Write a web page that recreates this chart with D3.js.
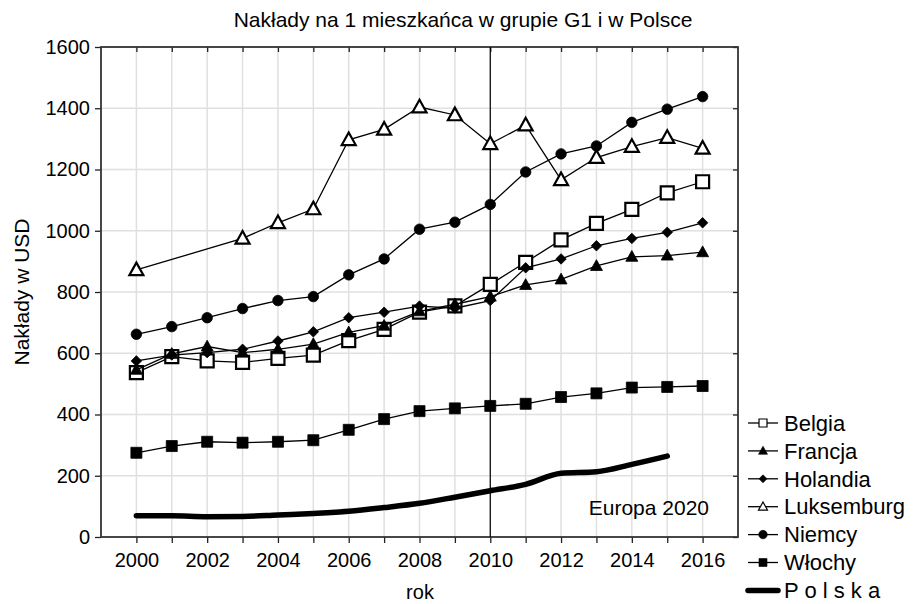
<!DOCTYPE html>
<html>
<head>
<meta charset="utf-8">
<script src="https://cdn.jsdelivr.net/npm/d3@7"></script>
<style>
  html, body { margin: 0; padding: 0; background: #fff; }
  svg { display: block; font-family: "Liberation Sans", Arial, sans-serif; }
</style>
</head>
<body>
<svg id="chart" width="923" height="604"></svg>
<script>
// Years covered by the series
const years = [2000, 2001, 2002, 2003, 2004, 2005, 2006, 2007, 2008,
               2009, 2010, 2011, 2012, 2013, 2014, 2015, 2016];

// Spending per inhabitant (USD); null = no data for that year
const belgia     = [537, 589, 575, 570, 583, 594, 641, 678, 734, 755, 825, 897, 970, 1024, 1070, 1124, 1160];
const francja    = [546, 598, 622, 602, 613, 630, 668, 690, 737, 760, 785, 823, 841, 885, 915, 919, 930];
const holandia   = [575, 594, 602, 613, 640, 670, 716, 734, 754, 747, 772, 879, 908, 951, 975, 995, 1026];
const luksemburg = [872, null, null, 975, 1026, 1071, 1297, 1331, 1404, 1378, 1284, 1345, 1166, 1239, 1275, 1304, 1269];
const niemcy     = [662, 687, 716, 746, 772, 785, 856, 908, 1005, 1028, 1086, 1192, 1251, 1277, 1354, 1397, 1438];
const wlochy     = [275, 297, 311, 308, 311, 316, 350, 385, 411, 420, 428, 435, 457, 469, 488, 490, 493];
const polska     = [69, 69, 66, 67, 72, 77, 84, 96, 110, 130, 151, 172, 208, 213, 237, 264, null];

const yTicks = [0, 200, 400, 600, 800, 1000, 1200, 1400, 1600];
const xTickLabels = [2000, 2002, 2004, 2006, 2008, 2010, 2012, 2014, 2016];
const markerYear = 2010;

const titleText = "Nakłady na 1 mieszkańca w grupie G1 i w Polsce";
const yTitle = "Nakłady w USD";
const xTitle = "rok";
const noteText = "Europa 2020";

const series = [
  { name: "Belgia",     values: belgia,     symbol: "square",   fill: "#fff" },
  { name: "Francja",    values: francja,    symbol: "triangle", fill: "#000" },
  { name: "Holandia",   values: holandia,   symbol: "diamond",  fill: "#000" },
  { name: "Luksemburg", values: luksemburg, symbol: "triangle", fill: "#fff" },
  { name: "Niemcy",     values: niemcy,     symbol: "circle",   fill: "#000" },
  { name: "Włochy",     values: wlochy,     symbol: "square",   fill: "#000" }
];
const polskaName = "P o l s k a";

// Layout
const svg = d3.select("#chart");
const plot = { left: 101, right: 738, top: 47, bottom: 537 };

const x = d3.scaleLinear().domain([1999, 2017]).range([plot.left, plot.right]);
const y = d3.scaleLinear().domain([0, 1600]).range([plot.bottom, plot.top]);

// Gridlines
const grid = svg.append("g");
grid.selectAll("line.v").data(years).join("line")
  .attr("x1", d => x(d)).attr("x2", d => x(d))
  .attr("y1", plot.top).attr("y2", plot.bottom)
  .attr("stroke", "#e0e0e0").attr("stroke-width", 1.5);
grid.selectAll("line.h").data(yTicks.slice(1, -1)).join("line")
  .attr("x1", plot.left).attr("x2", plot.right)
  .attr("y1", d => y(d)).attr("y2", d => y(d))
  .attr("stroke", "#e0e0e0").attr("stroke-width", 1.5);

// Axes
const fontSize = 20;
const axisBottom = svg.append("g")
  .attr("transform", `translate(0,${plot.bottom})`)
  .call(d3.axisBottom(x).tickValues(years).tickSize(6).tickPadding(10)
    .tickFormat(d => xTickLabels.includes(d) ? d : ""));
const axisLeft = svg.append("g")
  .attr("transform", `translate(${plot.left},0)`)
  .call(d3.axisLeft(y).tickValues(yTicks).tickSize(6).tickPadding(5).tickFormat(d3.format("d")));
const axisTop = svg.append("g")
  .attr("transform", `translate(0,${plot.top})`)
  .call(d3.axisBottom(x).tickValues(years).tickSize(5).tickFormat(""));
const axisRight = svg.append("g")
  .attr("transform", `translate(${plot.right},0)`)
  .call(d3.axisLeft(y).tickValues(yTicks).tickSize(5).tickFormat(""));

[axisBottom, axisLeft, axisTop, axisRight].forEach(g => {
  g.select(".domain").remove();
  g.selectAll(".tick line").attr("stroke", "#222").attr("stroke-width", 1.3);
  g.selectAll(".tick text").attr("font-size", fontSize).attr("fill", "#000")
    .attr("font-family", "Liberation Sans, Arial, sans-serif");
});

// Frame
svg.append("rect")
  .attr("x", plot.left).attr("y", plot.top)
  .attr("width", plot.right - plot.left).attr("height", plot.bottom - plot.top)
  .attr("fill", "none").attr("stroke", "#333").attr("stroke-width", 1.8);

// Reference year line
svg.append("line")
  .attr("x1", x(markerYear)).attr("x2", x(markerYear))
  .attr("y1", plot.top).attr("y2", plot.bottom)
  .attr("stroke", "#000").attr("stroke-width", 1.2);

// Symbol shapes
function symbolPath(kind, size) {
  const h = size / 2;
  if (kind === "square") return `M${-h},${-h}H${h}V${h}H${-h}Z`;
  if (kind === "diamond") return `M0,${-h}L${h},0L0,${h}L${-h},0Z`;
  if (kind === "triangle") return `M0,${-h * 1.05}L${h},${h * 0.75}L${-h},${h * 0.75}Z`;
  if (kind === "circle") return d3.arc()({ innerRadius: 0, outerRadius: h, startAngle: 0, endAngle: 2 * Math.PI });
  return "";
}
const plotSize = { square: 11, diamond: 10.5, triangle: 12, circle: 10.5 };
const legendSize = { square: 8, diamond: 8, triangle: 9, circle: 8.5 };

const line = d3.line().x(d => x(d.year)).y(d => y(d.value));

series.forEach(s => {
  const pts = years.map((yr, i) => ({ year: yr, value: s.values[i] })).filter(d => d.value != null);
  svg.append("path").datum(pts)
    .attr("d", line).attr("fill", "none")
    .attr("stroke", "#000").attr("stroke-width", 1.3);
  const big = s.fill === "#fff";
  svg.append("g").selectAll("path").data(pts).join("path")
    .attr("transform", d => `translate(${x(d.year)},${y(d.value)})`)
    .attr("d", symbolPath(s.symbol, plotSize[s.symbol] + (big ? 2 : 0)))
    .attr("fill", s.fill)
    .attr("stroke", "#000")
    .attr("stroke-width", big ? 2.2 : 0.8);
});

// Polska – thick line
const polPts = years.map((yr, i) => ({ year: yr, value: polska[i] })).filter(d => d.value != null);
svg.append("path").datum(polPts)
  .attr("d", d3.line().x(d => x(d.year)).y(d => y(d.value)).curve(d3.curveMonotoneX))
  .attr("fill", "none").attr("stroke", "#000")
  .attr("stroke-width", 5.5).attr("stroke-linecap", "round").attr("stroke-linejoin", "round");

// Texts
svg.append("text").attr("x", 463).attr("y", 27).attr("text-anchor", "middle")
  .attr("font-size", 21).text(titleText);
svg.append("text").attr("transform", "translate(29,292) rotate(-90)")
  .attr("text-anchor", "middle").attr("font-size", 21).text(yTitle);
svg.append("text").attr("x", 420).attr("y", 599).attr("text-anchor", "middle")
  .attr("font-size", 20).text(xTitle);
svg.append("text").attr("x", 709).attr("y", 515).attr("text-anchor", "end")
  .attr("font-size", 21).text(noteText);

// Legend
const legend = svg.append("g");
const legX0 = 748, legX1 = 778, legMid = 763, legText = 784, legY0 = 423, legStep = 27.9;
const legFont = 22;
series.forEach((s, i) => {
  const ly = legY0 + i * legStep;
  legend.append("line").attr("x1", legX0).attr("x2", legX1).attr("y1", ly).attr("y2", ly)
    .attr("stroke", "#000").attr("stroke-width", 1.3);
  legend.append("path").attr("transform", `translate(${legMid},${ly})`)
    .attr("d", symbolPath(s.symbol, legendSize[s.symbol]))
    .attr("fill", s.fill).attr("stroke", "#000").attr("stroke-width", s.fill === "#fff" ? 1.2 : 0.6);
  legend.append("text").attr("x", legText).attr("y", ly).attr("dy", "0.35em")
    .attr("font-size", legFont).text(s.name);
});
const py = legY0 + series.length * legStep;
legend.append("line").attr("x1", legX0).attr("x2", legX1).attr("y1", py).attr("y2", py)
  .attr("stroke", "#000").attr("stroke-width", 5.5).attr("stroke-linecap", "round");
legend.append("text").attr("x", legText).attr("y", py).attr("dy", "0.33em")
  .attr("font-size", legFont).text(polskaName);
</script>
</body>
</html>
